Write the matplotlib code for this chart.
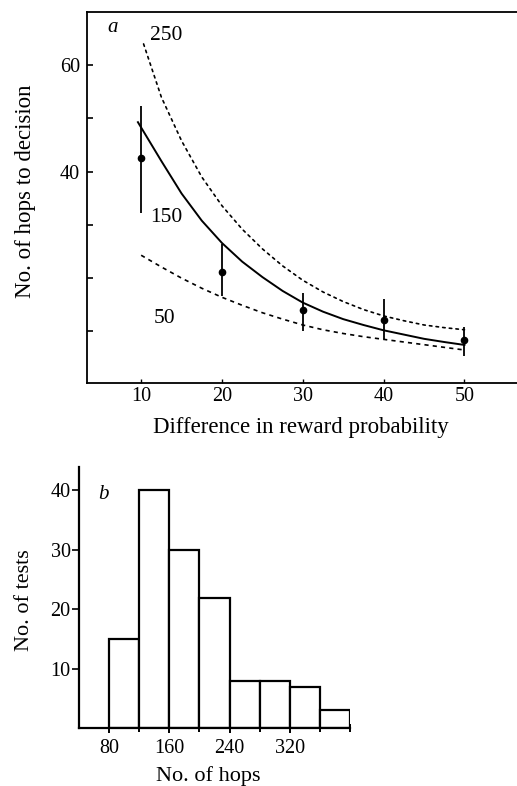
import matplotlib
matplotlib.use("Agg")
import matplotlib.pyplot as plt

plt.rcParams['font.family'] = ['Liberation Serif', 'DejaVu Serif']

# panel a: model curves
curve_x = [10, 12.5, 15, 17.5, 20, 22.5, 25, 27.5, 30, 32.5, 35, 37.5, 40, 42.5, 45, 47.5, 50]
curve_250 = [64.0, 54.0, 45.8, 39.0, 33.6, 29.2, 25.5, 22.3, 19.6, 17.4, 15.6, 14.1, 12.9, 12.0, 11.2, 10.7, 10.3]
curve_150 = [49.3, 42.0, 35.9, 30.8, 26.6, 23.1, 20.2, 17.6, 15.4, 13.7, 12.3, 11.2, 10.2, 9.4, 8.6, 8.0, 7.45]
curve_50 = [24.3, 22.1, 20.0, 18.1, 16.4, 14.9, 13.5, 12.3, 11.2, 10.3, 9.6, 9.0, 8.5, 8.0, 7.5, 7.0, 6.5]
x_250 = [10.3] + curve_x[1:]
x_150 = [9.6] + curve_x[1:]

# panel a: observed means with ranges
obs_x = [10, 20, 30, 40, 50]
obs_y = [42.6, 21.2, 14.1, 12.2, 8.4]
obs_lo = [32.3, 16.7, 10.1, 8.6, 5.4]
obs_hi = [52.3, 26.4, 17.3, 16.1, 10.8]

# panel b: histogram
bin_edges = [80, 120, 160, 200, 240, 280, 320, 360, 400]
counts = [15, 40, 30, 22, 8, 8, 7, 3]

fig = plt.figure(figsize=(5.17, 7.86), dpi=100)

# ---- panel a ----
ax = fig.add_axes([87 / 517, (786 - 383) / 786, 430 / 517, 371 / 786])
ax.plot(x_250, curve_250, color='k', lw=1.2, dashes=(1.5, 2.5),
        dash_joinstyle='round', dash_capstyle='round')
ax.plot(x_150, curve_150, color='k', lw=1.4, solid_joinstyle='round')
ax.plot(curve_x, curve_50, color='k', lw=1.2, dashes=(2.5, 2.5),
        dash_joinstyle='round')
err_lo = [m - l for m, l in zip(obs_y, obs_lo)]
err_hi = [h - m for m, h in zip(obs_y, obs_hi)]
ax.errorbar(obs_x, obs_y, yerr=[err_lo, err_hi], fmt='o', color='k',
            ms=4.5, elinewidth=1.3, capsize=0)

ax.set_xlim(3.3, 56.5)
ax.set_ylim(0.3, 70)
ax.set_xticks([10, 20, 30, 40, 50])
ax.set_yticks([10, 20, 30, 40, 50, 60])
ax.set_yticklabels(['', '', '', '40', '', '60'])
ax.tick_params(axis='y', direction='in', length=4, width=1.2, pad=5, labelsize=14.5)
ax.tick_params(axis='x', direction='in', length=3, width=1.0, pad=3, labelsize=14.5)
ax.spines['right'].set_visible(False)
for s in ['left', 'bottom', 'top']:
    ax.spines[s].set_linewidth(1.3)

ax.text(5.8, 67.1, 'a', fontsize=15, style='italic', ha='left', va='center')
ax.text(11.1, 65.5, '250', fontsize=15.5, ha='left', va='center')
ax.text(11.1, 31.3, '150', fontsize=15.5, ha='left', va='center')
ax.text(11.6, 12.5, '50', fontsize=15.5, ha='left', va='center')

fig.text(301 / 517, 1 - 427 / 786, 'Difference in reward probability',
         fontsize=16.5, ha='center', va='center')
fig.text(25.5 / 517, 1 - 191.5 / 786, 'No. of hops to decision',
         fontsize=16.5, ha='center', va='center', rotation=90)

# ---- panel b ----
bx = fig.add_axes([79 / 517, (786 - 728.3) / 786, 271 / 517, 261.6 / 786])
bx.bar(bin_edges[:-1], counts, width=40, align='edge', color='white',
       edgecolor='k', linewidth=1.6)
bx.set_xlim(40, 400)
bx.set_ylim(0, 44)
bx.set_xticks([80, 160, 240, 320])
bx.set_xticks([120, 200, 280, 360, 400], minor=True)
bx.set_yticks([10, 20, 30, 40])
bx.tick_params(axis='y', direction='out', length=5, width=1.2, pad=1, labelsize=14.5)
bx.tick_params(axis='x', which='major', direction='inout', length=7, width=1.4,
               pad=4, labelsize=14.5)
bx.tick_params(axis='x', which='minor', direction='inout', length=6, width=1.4)
bx.spines['right'].set_visible(False)
bx.spines['top'].set_visible(False)
for s in ['left', 'bottom']:
    bx.spines[s].set_linewidth(1.6)

bx.text(71.9, 39.3, 'b', fontsize=15, style='italic', ha='center', va='center')

fig.text(208 / 517, 1 - 776 / 786, 'No. of hops', fontsize=16, ha='center', va='center')
fig.text(25 / 517, 1 - 600 / 786, 'No. of tests', fontsize=16, ha='center',
         va='center', rotation=90)

fig.savefig('out.png', dpi=100)
